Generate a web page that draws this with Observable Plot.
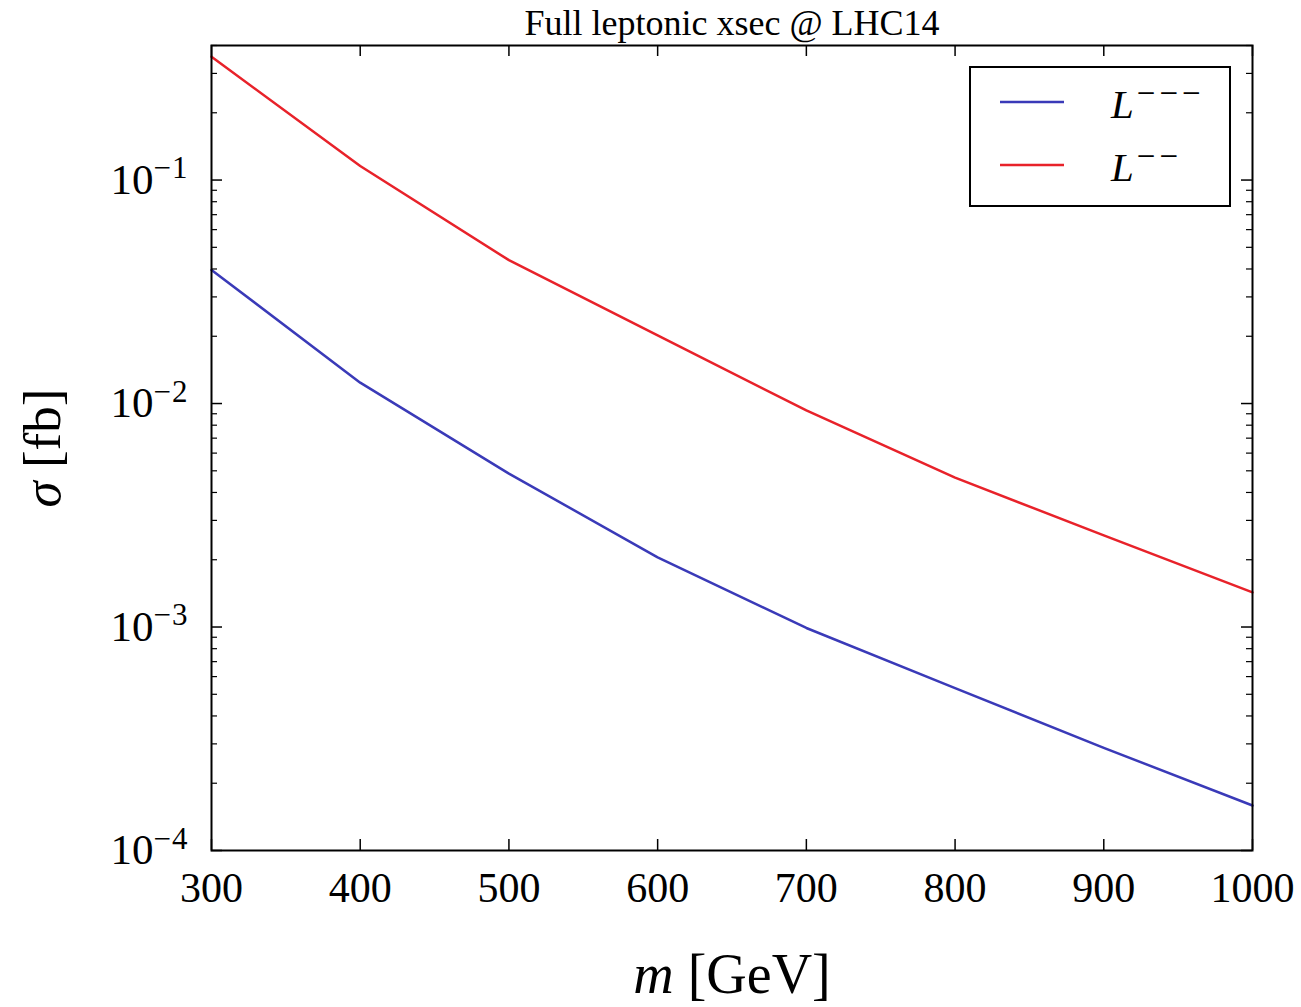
<!DOCTYPE html>
<html>
<head>
<meta charset="utf-8">
<script src="https://cdn.jsdelivr.net/npm/d3@7"></script>
<script src="https://cdn.jsdelivr.net/npm/@observablehq/plot@0.6"></script>
<style>
  html, body { margin: 0; padding: 0; background: white; }
  #chart { position: relative; width: 1301px; height: 1007px; }
</style>
</head>
<body>
<div id="chart"></div>
<script>
// ---- data ----
const masses = [300, 400, 500, 600, 700, 800, 900, 1000];
const sigmaLmmm = [0.0396, 0.0124, 0.00486, 0.00205, 0.00099, 0.000533, 0.000288, 0.000159];
const sigmaLmm  = [0.356, 0.1155, 0.0438, 0.0202, 0.00931, 0.00466, 0.00257, 0.00143];
const seriesNames = ["L---", "L--"];
const seriesColors = ["#3a3ab8", "#e8222a"];
const xTicks = [300, 400, 500, 600, 700, 800, 900, 1000];
const yMajorTicks = [1e-4, 1e-3, 1e-2, 1e-1];
const yMinorTicks = [2e-4,3e-4,4e-4,5e-4,6e-4,7e-4,8e-4,9e-4,
                     2e-3,3e-3,4e-3,5e-3,6e-3,7e-3,8e-3,9e-3,
                     2e-2,3e-2,4e-2,5e-2,6e-2,7e-2,8e-2,9e-2,
                     2e-1,3e-1,4e-1];
const titleText = "Full leptonic xsec @ LHC14";

const data = [];
masses.forEach((m, i) => data.push({m, sigma: sigmaLmmm[i], series: seriesNames[0]}));
masses.forEach((m, i) => data.push({m, sigma: sigmaLmm[i], series: seriesNames[1]}));

const W = 1301, H = 1007;
const mT = 45, mR = 49, mB = 157, mL = 211;
const pw = W - mL - mR, ph = H - mT - mB;
const font = "'Liberation Serif', 'DejaVu Serif', serif";

const chart = Plot.plot({
  width: W, height: H,
  marginTop: mT, marginRight: mR, marginBottom: mB, marginLeft: mL,
  style: {fontFamily: font, background: "white", color: "black"},
  x: {domain: [300, 1000]},
  y: {type: "log", domain: [1e-4, 0.4]},
  color: {domain: seriesNames, range: seriesColors},
  marks: [
    Plot.line(data, {x: "m", y: "sigma", stroke: "series", strokeWidth: 2.5, z: "series"}),
    // inward ticks: left / right / bottom / top
    Plot.tickY(yMajorTicks, {y: d => d, insetRight: pw - 11, stroke: "black", strokeWidth: 1.5}),
    Plot.tickY(yMajorTicks, {y: d => d, insetLeft: pw - 11, stroke: "black", strokeWidth: 1.5}),
    Plot.tickY(yMinorTicks, {y: d => d, insetRight: pw - 6, stroke: "black", strokeWidth: 1.2}),
    Plot.tickY(yMinorTicks, {y: d => d, insetLeft: pw - 6, stroke: "black", strokeWidth: 1.2}),
    Plot.tickX(xTicks, {x: d => d, insetTop: ph - 11, stroke: "black", strokeWidth: 1.5}),
    Plot.tickX(xTicks, {x: d => d, insetBottom: ph - 11, stroke: "black", strokeWidth: 1.5}),
    Plot.frame({stroke: "black", strokeWidth: 2}),
    Plot.axisX({ticks: xTicks, tickSize: 0, tickPadding: 22, fontSize: 42, label: null, tickFormat: d => String(d)}),
    Plot.axisY({ticks: yMajorTicks, tickSize: 0, tickPadding: 23, fontSize: 43, label: null,
                tickFormat: d => "10^" + Math.round(Math.log10(d))}),
    Plot.text([titleText], {frameAnchor: "top", dy: -22, fontSize: 36, fill: "black",
                            textAnchor: "middle", lineAnchor: "middle"}),
    Plot.text(["m [GeV]"], {frameAnchor: "bottom", dy: 125, fontSize: 56, fill: "black",
                            textAnchor: "middle", lineAnchor: "middle"}),
    Plot.text(["σ [fb]"], {frameAnchor: "left", dx: -168, rotate: -90, fontSize: 53, fill: "black",
                           textAnchor: "middle", lineAnchor: "middle"})
  ]
});
document.getElementById("chart").appendChild(chart);

const svg = d3.select(chart);
// superscripts for y tick labels
svg.selectAll('[aria-label="y-axis tick label"] text').each(function() {
  const t = d3.select(this);
  const s = t.text();
  const exp = s.split("^")[1].replace("-", "\u2212");
  t.text("10");
  t.append("tspan").attr("dy", "-0.5em").attr("font-size", "31").attr("letter-spacing", "1").text(exp);
});
// italic variables in axis labels
svg.selectAll('text').each(function() {
  const t = d3.select(this);
  const s = t.text();
  if (s === "m [GeV]") {
    t.text("");
    t.append("tspan").attr("font-style", "italic").text("m");
    t.append("tspan").text(" [GeV]");
  } else if (s === "σ [fb]") {
    t.text("");
    t.append("tspan").attr("font-style", "italic").text("σ");
    t.append("tspan").text(" [fb]");
  }
});

// legend box (upper right, inside the frame)
const lg = svg.append("g").attr("font-family", font).attr("text-anchor", "start");
lg.append("rect").attr("x", 970).attr("y", 67).attr("width", 260).attr("height", 139)
  .attr("fill", "white").attr("stroke", "black").attr("stroke-width", 2);
const legendRows = [
  {name: seriesNames[0], color: seriesColors[0], sup: "\u2212\u2212\u2212", y: 102},
  {name: seriesNames[1], color: seriesColors[1], sup: "\u2212\u2212", y: 165}
];
legendRows.forEach(r => {
  lg.append("line").attr("x1", 1000).attr("x2", 1064).attr("y1", r.y).attr("y2", r.y)
    .attr("stroke", r.color).attr("stroke-width", 2.5);
  const tx = lg.append("text").attr("x", 1111).attr("y", r.y + 16).attr("font-size", 41)
    .attr("fill", "black").attr("text-anchor", "start");
  tx.append("tspan").attr("font-style", "italic").text("L");
  tx.append("tspan").attr("dx", "3").attr("dy", "-0.42em").attr("font-size", 33).attr("letter-spacing", "4").text(r.sup);
});
</script>
</body>
</html>
